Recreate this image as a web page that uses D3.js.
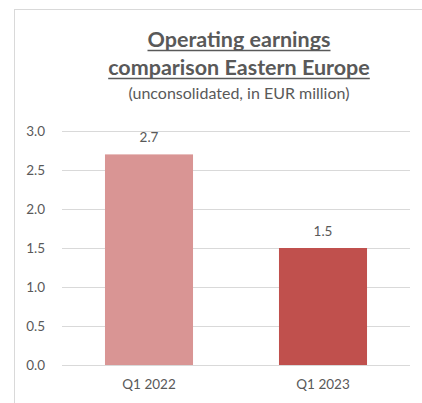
<!DOCTYPE html>
<html>
<head>
<meta charset="utf-8">
<script src="https://cdn.jsdelivr.net/npm/d3@7"></script>
<style>
  html, body { margin: 0; padding: 0; background: #fff; }
  svg { display: block; }
</style>
</head>
<body>
<svg id="chart" width="422" height="403"></svg>
<script>
// Operating earnings, Eastern Europe (EUR million)
const categories = ["Q1 2022", "Q1 2023"];
const earnings = [2.7, 1.5];
const barColors = ["#D99594", "#C0504D"];
const yTicks = [0, 0.5, 1.0, 1.5, 2.0, 2.5, 3.0];
const titleLines = ["Operating earnings", "comparison Eastern Europe"];
const subtitle = "(unconsolidated, in EUR million)";

const svg = d3.select("#chart");
const textColor = "#595959";
const font = "Lato, 'Open Sans', sans-serif";

// chart area frame
svg.append("rect")
  .attr("x", 14.5).attr("y", 9.5)
  .attr("width", 422).attr("height", 420)
  .attr("fill", "#fff")
  .attr("stroke", "#D9D9D9").attr("stroke-width", 1);

const plot = { left: 62, right: 410, top: 131, bottom: 365 };

const x = d3.scaleBand()
  .domain(categories)
  .range([plot.left, plot.right])
  .paddingInner(0.494)
  .paddingOuter(0.247);

const y = d3.scaleLinear()
  .domain([0, 3])
  .range([plot.bottom, plot.top]);

// gridlines
svg.append("g")
  .selectAll("line")
  .data(yTicks)
  .join("line")
  .attr("x1", plot.left).attr("x2", plot.right)
  .attr("y1", d => Math.round(y(d)) + 0.5)
  .attr("y2", d => Math.round(y(d)) + 0.5)
  .attr("stroke", "#D9D9D9").attr("stroke-width", 1);

// y axis labels
const yAxis = d3.axisLeft(y)
  .tickValues(yTicks)
  .tickFormat(d3.format(".1f"))
  .tickSize(0)
  .tickPadding(0);
const yg = svg.append("g")
  .attr("transform", `translate(45,0)`)
  .call(yAxis);
yg.select(".domain").remove();
yg.selectAll("text")
  .attr("fill", textColor)
  .style("font-family", font)
  .style("font-size", "13.5px");

// bars
svg.append("g")
  .selectAll("rect")
  .data(earnings)
  .join("rect")
  .attr("x", (d, i) => x(categories[i]))
  .attr("width", x.bandwidth())
  .attr("y", d => y(d))
  .attr("height", d => y(0) - y(d))
  .attr("fill", (d, i) => barColors[i]);

// value labels
svg.append("g")
  .selectAll("text")
  .data(earnings)
  .join("text")
  .attr("x", (d, i) => x(categories[i]) + x.bandwidth() / 2)
  .attr("y", d => y(d) - 12)
  .attr("text-anchor", "middle")
  .attr("fill", textColor)
  .style("font-family", font)
  .style("font-size", "13.5px")
  .text(d => d3.format(".1f")(d));

// category axis
const xAxis = d3.axisBottom(x).tickSize(0).tickPadding(0);
const xg = svg.append("g")
  .attr("transform", `translate(0,${plot.bottom + 14})`)
  .call(xAxis);
xg.select(".domain").remove();
xg.selectAll("text")
  .attr("fill", textColor)
  .style("font-family", font)
  .style("font-size", "13.5px");

// title
const cx = 239;
const title = svg.append("g");
titleLines.forEach((line, i) => {
  const t = title.append("text")
    .attr("x", cx)
    .attr("y", 47 + i * 28)
    .attr("text-anchor", "middle")
    .attr("fill", textColor)
    .style("font-family", font)
    .style("font-weight", "bold")
    .style("font-size", "21.5px")
    .text(line);
  const w = t.node().getComputedTextLength();
  title.append("line")
    .attr("x1", cx - w / 2).attr("x2", cx + w / 2)
    .attr("y1", 50 + i * 28 + 0.5).attr("y2", 50 + i * 28 + 0.5)
    .attr("stroke", textColor).attr("stroke-width", 1.5);
});

svg.append("text")
  .attr("x", cx)
  .attr("y", 99)
  .attr("text-anchor", "middle")
  .attr("fill", textColor)
  .style("font-family", font)
  .style("font-size", "16px")
  .text(subtitle);
</script>
</body>
</html>
